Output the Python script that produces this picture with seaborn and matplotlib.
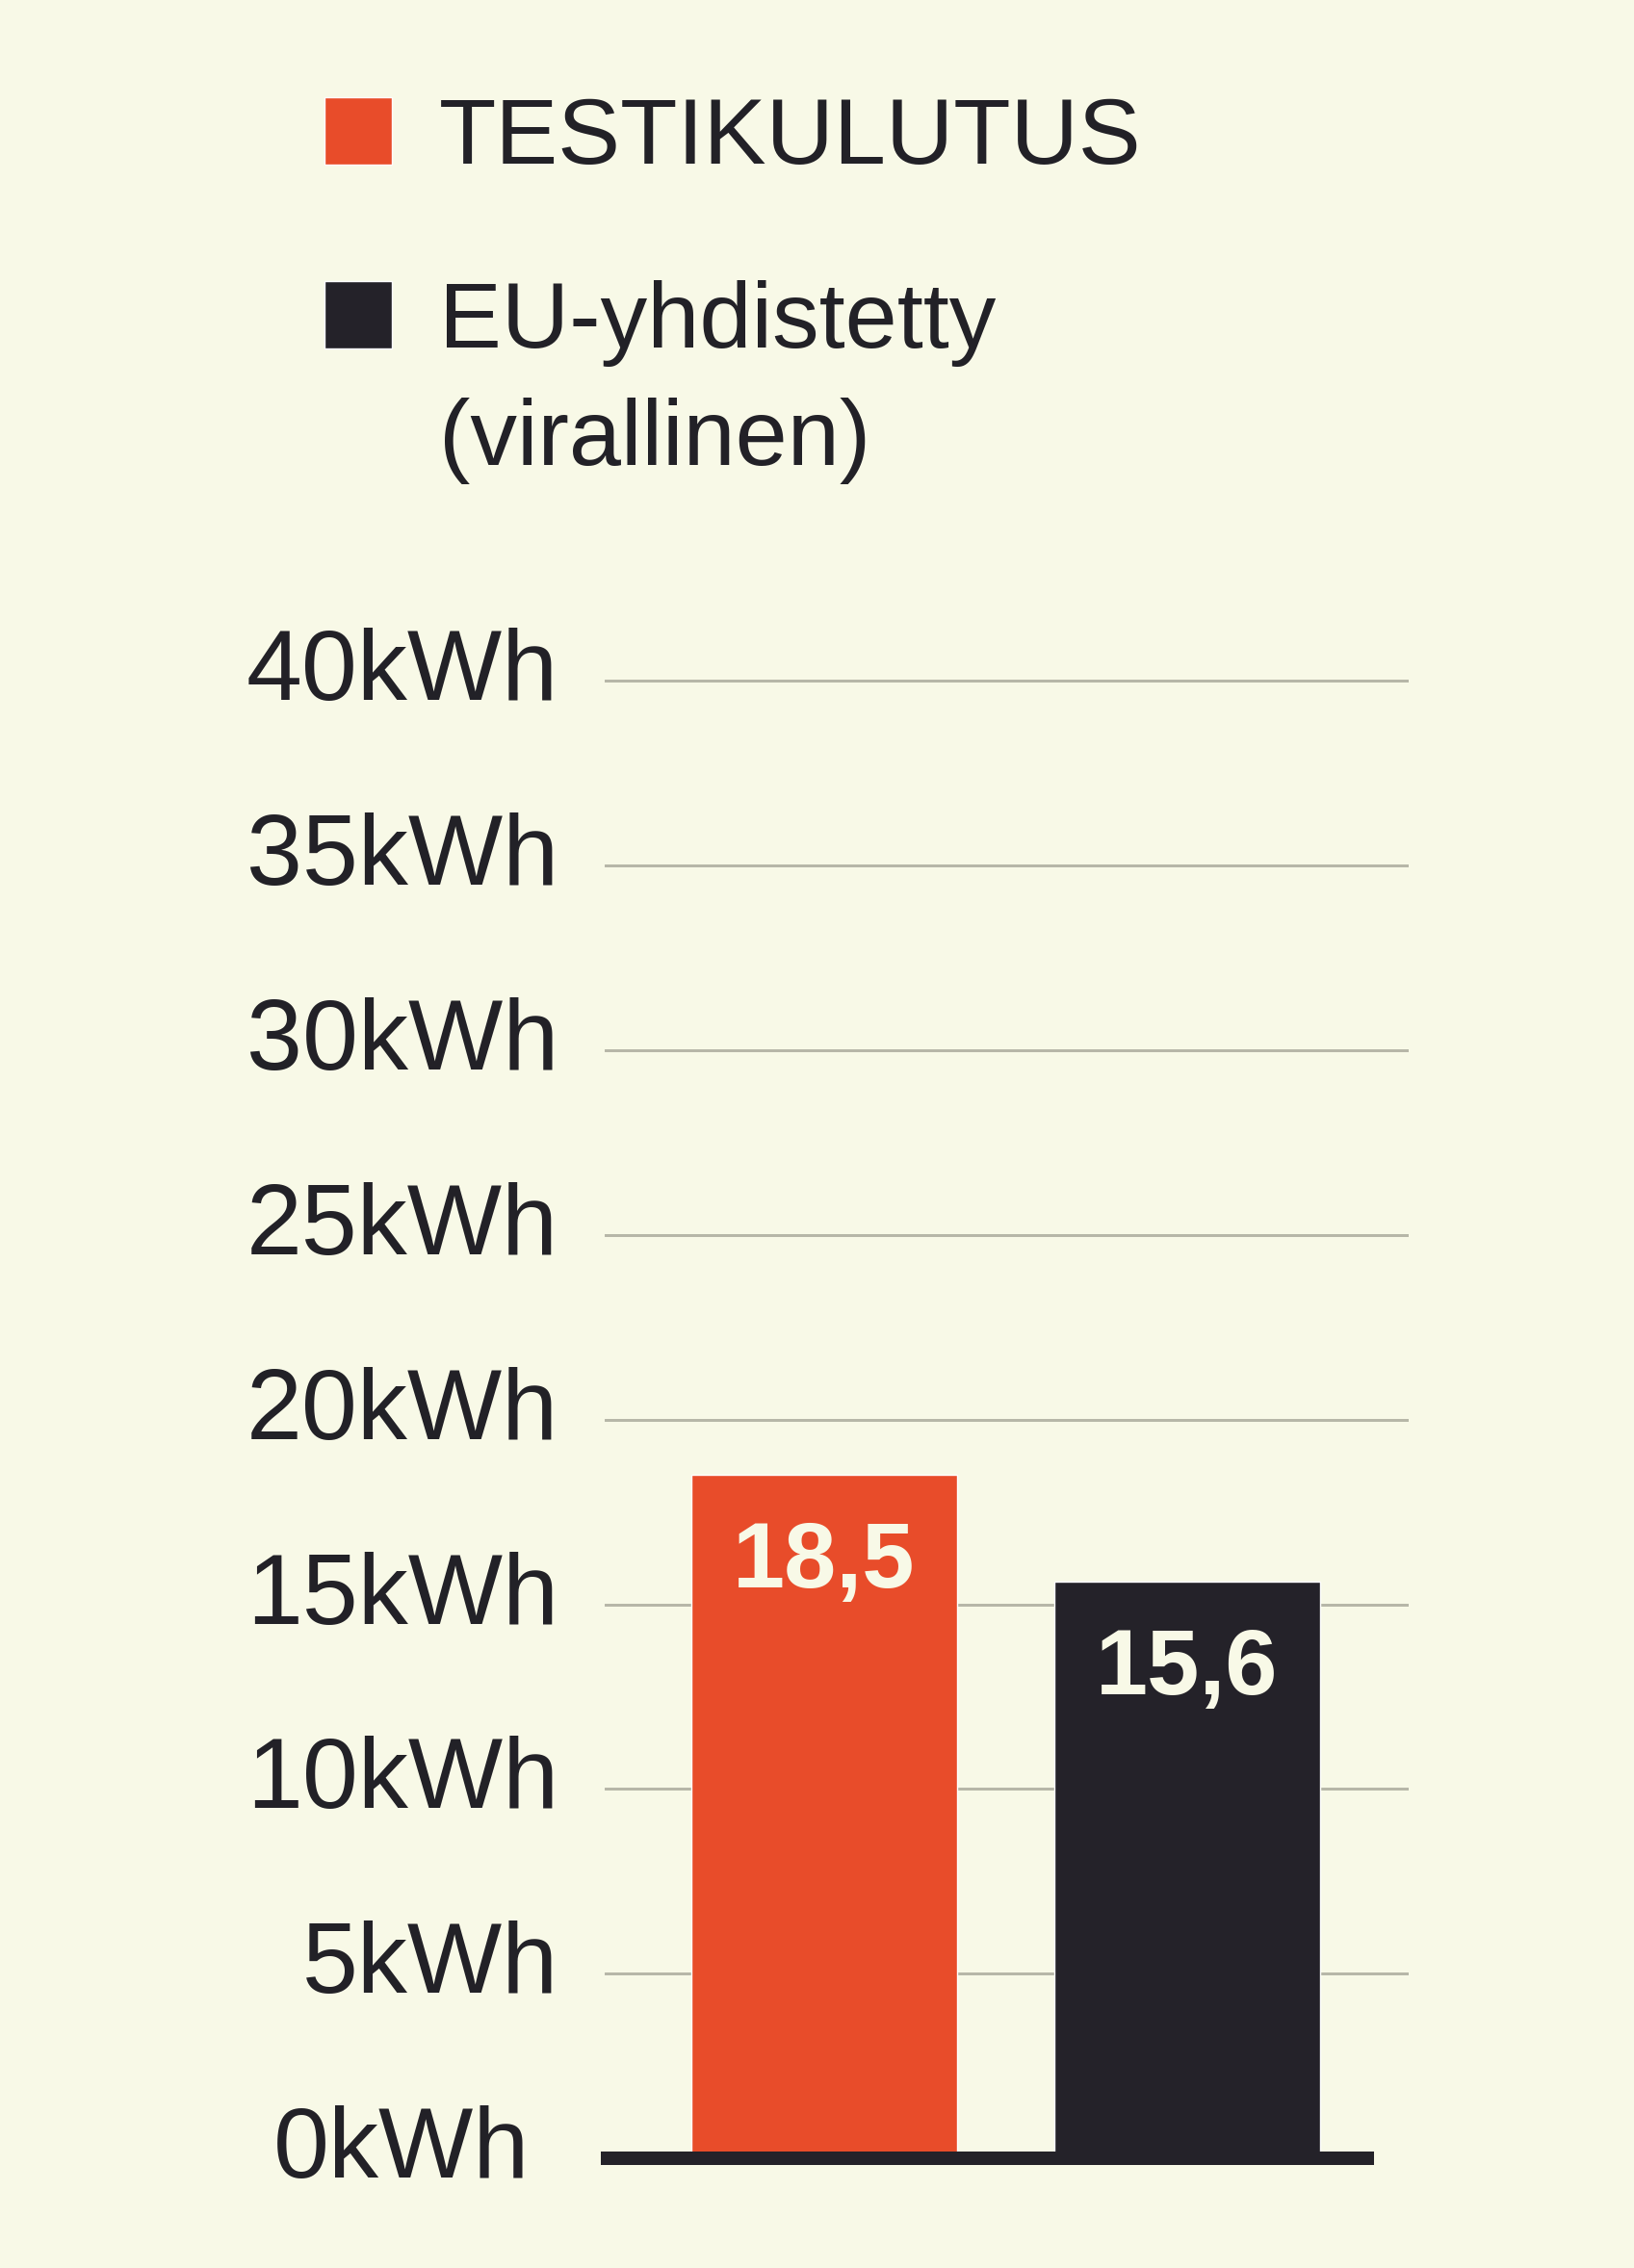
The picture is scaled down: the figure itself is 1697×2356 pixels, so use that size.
import numpy as np
import matplotlib
matplotlib.use("Agg")
import matplotlib.pyplot as plt
import matplotlib.transforms as mtransforms
from matplotlib.patches import Patch
import seaborn as sns

# Data
categories = ["TESTIKULUTUS", "EU-yhdistetty (virallinen)"]
values = [18.5, 15.6]
value_labels = [f"{v:.1f}".replace(".", ",") for v in values]
yticks = [0, 5, 10, 15, 20, 25, 30, 35, 40]
ytick_labels = [f"{t}kWh" for t in yticks]
legend_labels = ["TESTIKULUTUS", "EU-yhdistetty", "(virallinen)"]

# Colours
bg = "#F8F9E7"
orange = "#E84C2A"
dark = "#242229"
grid_col = "#B7B7A8"
text_col = "#222127"
palette = {categories[0]: orange, categories[1]: dark}

sns.set_style("white", rc={"axes.facecolor": bg, "figure.facecolor": bg})
plt.rcParams["font.family"] = ["Liberation Sans", "DejaVu Sans"]

DPI = 100
fig = plt.figure(figsize=(16.97, 23.56), dpi=DPI)
ax = fig.add_axes([628 / 1697, 114 / 2356, (1463 - 628) / 1697, (2242 - 669) / 2356])

sns.barplot(x=categories, y=values, hue=categories, palette=palette,
            width=0.732, saturation=1, legend=False, ax=ax, zorder=2)

ax.set_xlim(-0.605, 1.610)
ax.set_ylim(0, 41)
ax.set_xlabel("")
ax.set_ylabel("")
ax.set_xticks([])

# y axis: gridlines + labels
ax.set_yticks(yticks)
ax.set_yticklabels(ytick_labels)
ax.tick_params(axis="y", length=0, pad=48 * 72 / DPI, labelsize=75, labelcolor=text_col)
ax.yaxis.grid(True, color=grid_col, linewidth=3 * 72 / DPI)
ax.set_axisbelow(True)

for tick, t in zip(ax.yaxis.get_major_ticks(), yticks):
    lab = tick.label1
    lab.set_verticalalignment("baseline")
    dx = -30 / DPI if t == 0 else 0
    lab.set_transform(lab.get_transform() +
                      mtransforms.ScaledTranslation(dx, -20 / DPI, fig.dpi_scale_trans))
    if t == 0:
        tick.gridline.set_visible(False)

for side in ["top", "right", "left"]:
    ax.spines[side].set_visible(False)
ax.spines["bottom"].set_color(dark)
ax.spines["bottom"].set_linewidth(14 * 72 / DPI)
ax.spines["bottom"].set_bounds(-0.597, 1.496)

# value labels inside bars
for cont, lbl in zip(ax.containers, value_labels):
    anns = ax.bar_label(cont, labels=[lbl], padding=-117 * 72 / DPI,
                        fontsize=70, fontweight="bold", color=bg)
    for a in anns:
        a.set_verticalalignment("baseline")

# legends
leg_fs = 70
leg_a = fig.legend(handles=[Patch(facecolor=orange)], labels=[legend_labels[0]],
                   loc="upper left", bbox_to_anchor=(337 / 1697, 1 - 100 / 2356),
                   frameon=False, fontsize=leg_fs, borderpad=0, borderaxespad=0,
                   handlelength=0.72, handleheight=0.74, handletextpad=0.5,
                   labelcolor=text_col)
leg_b = fig.legend(handles=[Patch(facecolor=dark), Patch(facecolor="none", edgecolor="none")],
                   labels=legend_labels[1:],
                   loc="upper left", bbox_to_anchor=(337 / 1697, 1 - 291 / 2356),
                   frameon=False, fontsize=leg_fs, borderpad=0, borderaxespad=0,
                   handlelength=0.72, handleheight=0.74, handletextpad=0.5,
                   labelspacing=0.33, labelcolor=text_col)

fig.savefig("out.png", dpi=DPI, facecolor=bg)
